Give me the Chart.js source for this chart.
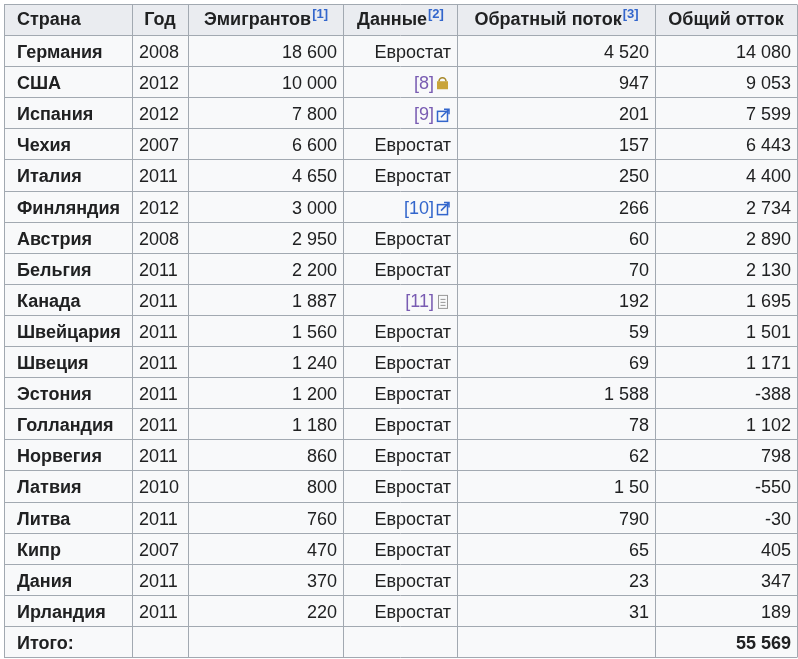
<!DOCTYPE html>
<html><head><meta charset="utf-8">
<script src="https://cdn.jsdelivr.net/npm/chart.js@4"></script>
<style>html,body{margin:0;background:#fff}</style></head>
<body><canvas id="c" width="798" height="659"></canvas>
<script>
const headers=["Страна","Год","Эмигрантов","Данные","Обратный поток","Общий отток"];
const headerSups=["","","[1]","[2]","[3]",""];
const countries=["Германия","США","Испания","Чехия","Италия","Финляндия","Австрия","Бельгия","Канада","Швейцария","Швеция","Эстония","Голландия","Норвегия","Латвия","Литва","Кипр","Дания","Ирландия"];
const years=["2008","2012","2012","2007","2011","2012","2008","2011","2011","2011","2011","2011","2011","2011","2010","2011","2007","2011","2011"];
const emigrants=["18 600","10 000","7 800","6 600","4 650","3 000","2 950","2 200","1 887","1 560","1 240","1 200","1 180","860","800","760","470","370","220"];
const sources=["Евростат","[8]","[9]","Евростат","Евростат","[10]","Евростат","Евростат","[11]","Евростат","Евростат","Евростат","Евростат","Евростат","Евростат","Евростат","Евростат","Евростат","Евростат"];
const sourceIcons=["","lock","ext","","","ext","","","doc","","","","","","","","","",""];
const sourceColors=["","#795cb2","#795cb2","","","#3366cc","","","#795cb2","","","","","","","","","",""];
const returns=["4 520","947","201","157","250","266","60","70","192","59","69","1 588","78","62","1 50","790","65","23","31"];
const net=["14 080","9 053","7 599","6 443","4 400","2 734","2 890","2 130","1 695","1 501","1 171","-388","1 102","798","-550","-30","405","347","189"];
const totalLabel="Итого:", totalValue="55 569";
const colWidths=[128,56,155,114,198,142];
const rowLabels=["h",...countries,"t"];

function icon(ctx,type,x,y){
  ctx.save();
  if(type==="lock"){
    ctx.fillStyle="#c9a43a";ctx.fillRect(x,y-3,11,8);
    ctx.strokeStyle="#a8892a";ctx.lineWidth=1.6;ctx.beginPath();ctx.arc(x+5.5,y-3,3.5,Math.PI,0);ctx.stroke();
  }else if(type==="ext"){
    ctx.strokeStyle="#3366cc";ctx.lineWidth=1.5;ctx.strokeRect(x+0.5,y-4,10,10);
    ctx.beginPath();ctx.moveTo(x+4,y+2);ctx.lineTo(x+12,y-6);ctx.moveTo(x+7,y-6);ctx.lineTo(x+12,y-6);ctx.lineTo(x+12,y-1);ctx.stroke();
  }else if(type==="doc"){
    ctx.strokeStyle="#999";ctx.lineWidth=1;ctx.strokeRect(x+1.5,y-6.5,9,13);
    ctx.beginPath();for(let i=0;i<3;i++){ctx.moveTo(x+3.5,y-2.5+i*3);ctx.lineTo(x+8.5,y-2.5+i*3);}ctx.stroke();
  }
  ctx.restore();
}

const tablePlugin={id:"table",afterDraw(chart){
  const ctx=chart.ctx, ys=chart.scales.y, a=chart.chartArea;
  const rh=ys.getPixelForValue(1)-ys.getPixelForValue(0);
  const edges=[a.left];colWidths.forEach(w=>edges.push(edges[edges.length-1]+w));
  ctx.save();
  const N=rowLabels.length;
  for(let r=0;r<N;r++){
    const cy=ys.getPixelForValue(r), top=cy-rh/2;
    ctx.fillStyle=r===0?"#eaecf0":"#f8f9fa";
    ctx.fillRect(a.left,top,edges[6]-a.left,rh);
  }
  ctx.strokeStyle="#a2a9b1";ctx.lineWidth=1;
  for(let r=0;r<=N;r++){const y=Math.round(ys.getPixelForValue(r)-rh/2)+0.5;ctx.beginPath();ctx.moveTo(a.left,y);ctx.lineTo(edges[6],y);ctx.stroke();}
  const yb=Math.round(ys.getPixelForValue(N-1)+rh/2)+0.5, yt=Math.round(ys.getPixelForValue(0)-rh/2)+0.5;
  edges.forEach(x=>{x=Math.round(x)+0.5;ctx.beginPath();ctx.moveTo(x,yt);ctx.lineTo(x,yb);ctx.stroke();});
  ctx.textBaseline="middle";
  const F='"Liberation Sans", Arial, sans-serif';
  const txt=(s,x,y,align,bold,color)=>{ctx.font=(bold?"bold ":"")+"18px "+F;ctx.fillStyle=color||"#202122";ctx.textAlign=align;ctx.fillText(s,x,y);};
  let cy=ys.getPixelForValue(0);
  headers.forEach((h,i)=>{
    ctx.font="bold 18px "+F;const w=ctx.measureText(h).width;
    ctx.font="bold 13px "+F;const sw=ctx.measureText(headerSups[i]).width;
    const cx=(i===0)?edges[0]+13:(edges[i]+edges[i+1])/2-(w+sw)/2;
    txt(h,cx,cy,"left",true);
    if(headerSups[i]){ctx.font="bold 13px "+F;ctx.fillStyle="#3366cc";ctx.textAlign="left";ctx.fillText(headerSups[i],cx+w+1,cy-5);}
  });
  for(let i=0;i<countries.length;i++){
    cy=ys.getPixelForValue(i+1)+2.5;
    txt(countries[i],edges[0]+13,cy,"left",true);
    txt(years[i],edges[1]+7,cy,"left");
    txt(emigrants[i],edges[3]-6,cy,"right");
    if(sourceIcons[i]){
      icon(ctx,sourceIcons[i],edges[4]-20,cy);
      txt(sources[i],edges[4]-23,cy,"right",false,sourceColors[i]);
    }else txt(sources[i],edges[4]-6,cy,"right");
    txt(returns[i],edges[5]-6,cy,"right");
    txt(net[i],edges[6]-6,cy,"right");
  }
  cy=ys.getPixelForValue(N-1)+2.5;
  txt(totalLabel,edges[0]+13,cy,"left",true);
  txt(totalValue,edges[6]-6,cy,"right",true);
  ctx.restore();
}};

new Chart(document.getElementById("c"),{
  type:"scatter",
  data:{labels:rowLabels,datasets:[{data:[]}]},
  options:{responsive:false,animation:false,
    layout:{padding:{left:4,top:4,right:1,bottom:2}},
    plugins:{legend:{display:false},tooltip:{enabled:false}},
    scales:{y:{type:"category",labels:rowLabels,offset:true,display:false},
            x:{type:"linear",min:0,max:6,display:false}}},
  plugins:[tablePlugin]
});
</script></body></html>
